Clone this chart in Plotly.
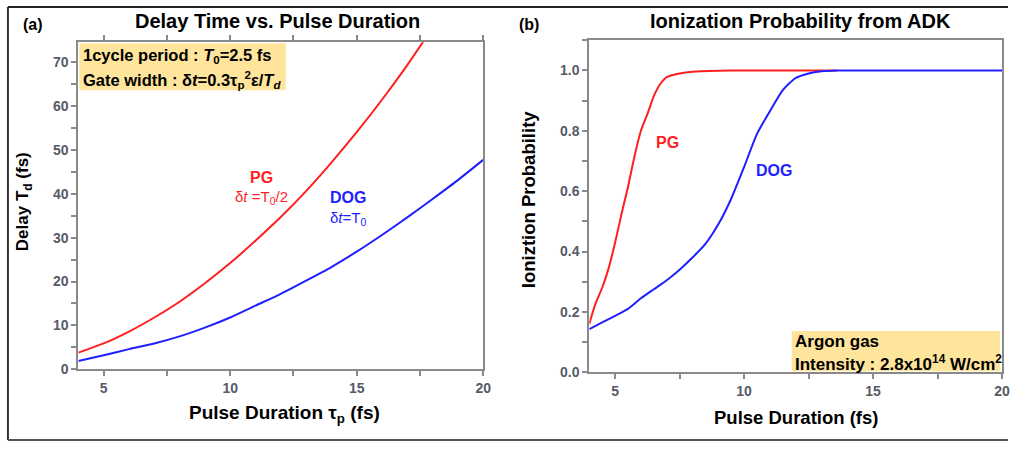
import plotly.graph_objects as go

W, H = 1016, 450

# ---- Panel (a): Delay time vs pulse duration ----
a_pg_x = [4, 5, 6, 7, 8, 9, 10, 11, 12, 13, 14, 15, 16, 17, 18]
a_pg_y = [3.8, 5.9, 8.6, 11.8, 15.4, 19.6, 24.2, 29.3, 34.7, 40.6, 47.1, 54.0, 61.4, 69.3, 77.8]
a_dog_x = [4, 5, 6, 7, 8, 9, 10, 11, 12, 13, 14, 15, 16, 17, 18, 19, 20]
a_dog_y = [1.9, 3.2, 4.6, 5.9, 7.5, 9.5, 11.8, 14.5, 17.2, 20.2, 23.3, 26.8, 30.6, 34.6, 38.8, 43.1, 47.7]

# ---- Panel (b): Ionization probability ----
b_pg_x = [4.0, 4.1, 4.25, 4.5, 4.75, 5.0, 5.25, 5.5, 5.75, 6.0, 6.25, 6.5, 6.75, 7.0, 7.5, 8.0, 9.0, 10.0, 11.0, 12.0, 13.0, 13.6]
b_pg_y = [0.16, 0.19, 0.23, 0.28, 0.345, 0.43, 0.525, 0.615, 0.715, 0.80, 0.855, 0.915, 0.955, 0.978, 0.99, 0.996, 0.999, 1.0, 1.0, 1.0, 1.0, 1.0]
b_dog_x = [4, 4.5, 5, 5.5, 6, 6.5, 7, 7.5, 8, 8.5, 9, 9.5, 10, 10.5, 11, 11.5, 12, 12.5, 13, 13.6, 15, 17, 20]
b_dog_y = [0.143, 0.165, 0.187, 0.21, 0.245, 0.275, 0.305, 0.34, 0.38, 0.425, 0.49, 0.575, 0.68, 0.79, 0.865, 0.935, 0.975, 0.99, 0.997, 1.0, 1.0, 1.0, 1.0]

RED = "#ff1f1f"
BLUE = "#1f1fff"
FONT = "Liberation Sans, Arial, sans-serif"
TICKC = "#565b68"
AXC = "#8a8a8a"

def px_x(p):
    return p / W

def px_y(p):
    return 1 - p / H

fig = go.Figure()
def line(x, y, color, xa, ya):
    fig.add_trace(go.Scatter(x=x, y=y, mode="lines",
                             line=dict(color=color, width=2, shape="spline", smoothing=0.6),
                             xaxis=xa, yaxis=ya, showlegend=False, hoverinfo="x+y"))

line(a_pg_x, a_pg_y, RED, "x", "y")
line(a_dog_x, a_dog_y, BLUE, "x", "y")
line(b_pg_x, b_pg_y, RED, "x2", "y2")
line(b_dog_x, b_dog_y, BLUE, "x2", "y2")

common = dict(showgrid=False, zeroline=False, showline=True, linecolor=AXC, linewidth=2,
              ticks="outside", ticklen=5, tickwidth=1.5, tickcolor=AXC,
              tickfont=dict(family=FONT, size=14, color=TICKC, weight="bold"))

fig.update_layout(
    width=W, height=H, autosize=False,
    margin=dict(l=0, r=0, t=0, b=0),
    paper_bgcolor="white", plot_bgcolor="white",
    xaxis=dict(domain=[px_x(79), px_x(487)], range=[4, 20], dtick=5, tick0=0,
               minor=dict(dtick=2.5, tick0=0, ticks="outside", ticklen=5, tickcolor=AXC),
               mirror="ticks", anchor="y", **common),
    yaxis=dict(domain=[px_y(376), px_y(43)], range=[0, 74.5], dtick=10, tick0=0,
               minor=dict(dtick=5, tick0=0, ticks="outside", ticklen=5, tickcolor=AXC),
               mirror=True, anchor="x", **common),
    xaxis2=dict(domain=[px_x(594), px_x(1010)], range=[4, 20], dtick=5, tick0=0,
                minor=dict(dtick=2.5, tick0=0, ticks="outside", ticklen=5, tickcolor=AXC),
                mirror=True, anchor="y2", **common),
    yaxis2=dict(domain=[px_y(379), px_y(41)], range=[0, 1.1], dtick=0.2, tick0=0, tickformat=".1f",
                minor=dict(dtick=0.1, tick0=0, ticks="outside", ticklen=5, tickcolor=AXC),
                mirror=True, anchor="x2", **common),
)

shapes = [
    # info boxes
    dict(type="rect", xref="paper", yref="paper", x0=px_x(80), x1=px_x(288), y0=px_y(92), y1=px_y(44),
         fillcolor="#ffe49c", line=dict(width=0), layer="below"),
    dict(type="rect", xref="paper", yref="paper", x0=px_x(798), x1=px_x(1008), y0=px_y(378), y1=px_y(337),
         fillcolor="#ffe49c", line=dict(width=0), layer="below"),
    # outer frame
    dict(type="line", xref="paper", yref="paper", x0=px_x(8), x1=1, y0=px_y(7), y1=px_y(7),
         line=dict(color="#222", width=2)),
    dict(type="line", xref="paper", yref="paper", x0=px_x(8), x1=px_x(8), y0=px_y(7), y1=px_y(448),
         line=dict(color="#333", width=2)),
    dict(type="line", xref="paper", yref="paper", x0=px_x(8), x1=1, y0=px_y(448), y1=px_y(448),
         line=dict(color="#555", width=2)),
]
fig.update_layout(shapes=shapes)

def ann(text, x, y, size=14, color="black", xanchor="center", yanchor="middle", xref="paper", yref="paper", textangle=0):
    fig.add_annotation(text=text, x=x, y=y, xref=xref, yref=yref, showarrow=False,
                       xanchor=xanchor, yanchor=yanchor, textangle=textangle,
                       font=dict(family=FONT, size=size, color=color))

# panel labels and titles
ann("<b>(a)</b>", px_x(21), px_y(25), size=16, xanchor="left")
ann("<b>(b)</b>", px_x(521), px_y(25), size=16, xanchor="left")
ann("<b>Delay Time vs. Pulse Duration</b>", px_x(280), px_y(21), size=20)
ann("<b>Ionization Probability from ADK</b>", px_x(807), px_y(21), size=20)

# axis titles
ann("<b>Delay T<sub>d</sub> (fs)</b>", px_x(25), px_y(205), size=17, textangle=-90)
ann("<b>Pulse Duration τ<sub>p</sub> (fs)</b>", px_x(287), px_y(422), size=19)
ann("<b>Ioniztion Probability</b>", px_x(533), px_y(203), size=18.5, textangle=-90)
ann("<b>Pulse Duration (fs)</b>", px_x(802), px_y(425), size=18.5)

# info box texts
ann("<b>1cycle period : <i>T</i><sub>0</sub>=2.5 fs</b>", px_x(82), px_y(57), size=16.5, xanchor="left")
ann("<b>Gate width : δ<i>t</i>=0.3τ<sub>p</sub><sup>2</sup>ε/<i>T<sub>d</sub></i></b>", px_x(82), px_y(81), size=16.5, xanchor="left")
ann("<b>Argon gas</b>", px_x(799), px_y(348), size=17, xanchor="left")
ann("<b>Intensity : 2.8x10<sup>14</sup> W/cm<sup>2</sup></b>", px_x(799), px_y(370), size=17, xanchor="left")

# curve labels
ann("<b>PG</b>", 11.22, 43.8, size=16, color=RED, xref="x", yref="y")
ann("δ<i>t</i> =T<sub>0</sub>/2", 11.22, 39.2, size=15, color=RED, xref="x", yref="y")
ann("<b>DOG</b>", 14.64, 39.2, size=16, color=BLUE, xref="x", yref="y")
ann("δ<i>t</i>=T<sub>0</sub>", 14.64, 34.4, size=15, color=BLUE, xref="x", yref="y")
ann("<b>PG</b>", 7.04, 0.76, size=16, color=RED, xref="x2", yref="y2")
ann("<b>DOG</b>", 11.15, 0.669, size=16, color=BLUE, xref="x2", yref="y2")

fig.write_html("out.html")
